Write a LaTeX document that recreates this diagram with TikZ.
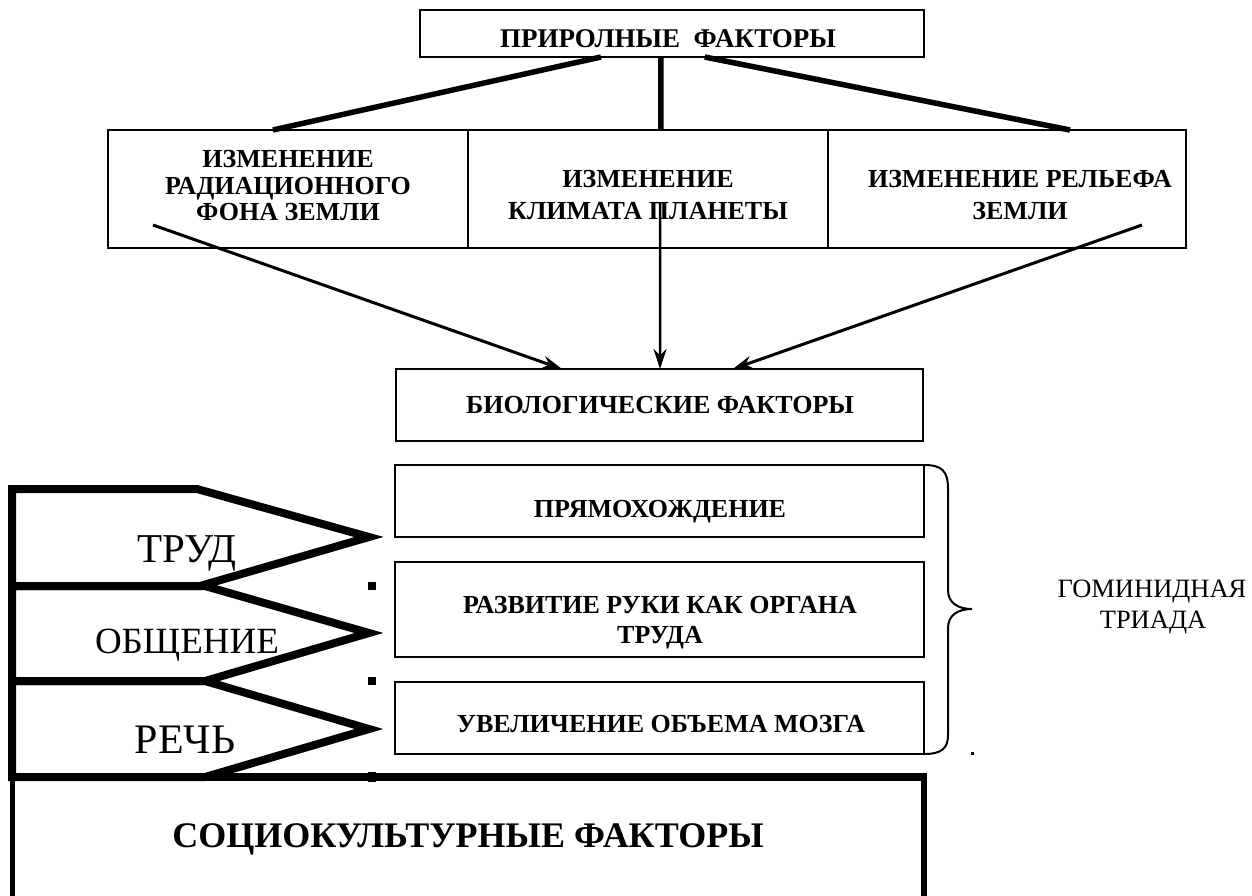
\documentclass[tikz,border=0pt]{standalone}
\usepackage{fontspec}
\setmainfont{Liberation Serif}
\usetikzlibrary{arrows.meta,calc}
\begin{document}
\begin{tikzpicture}[x=1pt,y=-1pt,
  box/.style={draw,line width=2pt,inner sep=0pt,outer sep=0pt,anchor=north west},
  lbl/.style={font=\bfseries\fontsize{26}{30}\selectfont,inner sep=0pt,anchor=base},
  big/.style={font=\fontsize{#1}{#1}\selectfont,inner sep=0pt,anchor=base},
  conn/.style={line width=5.5pt},
  arr/.style={line width=3pt,-{Stealth[length=20pt,width=13pt]}},
  thick5/.style={line width=8pt,line join=miter,miter limit=10},
  sq/.style={fill=black,draw=none,minimum size=8pt,inner sep=0pt}]
\useasboundingbox[fill=white] (0,0) rectangle (1252,895);

% boxes
\node[box,minimum width=504pt,minimum height=47pt] (top) at (420,10) {};
\node[box,minimum width=360pt,minimum height=118pt] (r1) at (108,130) {};
\node[box,minimum width=360pt,minimum height=118pt] (r2) at (468,130) {};
\node[box,minimum width=358pt,minimum height=118pt] (r3) at (828,130) {};
\node[box,minimum width=527pt,minimum height=72pt] (bio) at (396,369) {};
\node[box,minimum width=529pt,minimum height=72pt] (t1) at (395,465) {};
\node[box,minimum width=529pt,minimum height=95pt] (t2) at (395,562) {};
\node[box,minimum width=529pt,minimum height=72pt] (t3) at (395,682) {};

% texts
\node[lbl,font=\bfseries\fontsize{27}{30}\selectfont] (toptxt) at (668,47) {ПРИРОЛНЫЕ\ \ ФАКТОРЫ};
\node[lbl] (r1a) at (288,167) {ИЗМЕНЕНИЕ};
\node[lbl] (r1b) at (288,194) {РАДИАЦИОННОГО};
\node[lbl] (r1c) at (288,220) {ФОНА ЗЕМЛИ};
\node[lbl] (r2a) at (648,187) {ИЗМЕНЕНИЕ};
\node[lbl] (r2b) at (648,219) {КЛИМАТА ПЛАНЕТЫ};
\node[lbl] (r3a) at (1020,187) {ИЗМЕНЕНИЕ РЕЛЬЕФА};
\node[lbl] (r3b) at (1020,219) {ЗЕМЛИ};
\node[lbl] (biotxt) at (660,413) {БИОЛОГИЧЕСКИЕ ФАКТОРЫ};
\node[lbl] (t1txt) at (660,517) {ПРЯМОХОЖДЕНИЕ};
\node[lbl] (t2a) at (660,613) {РАЗВИТИЕ РУКИ КАК ОРГАНА};
\node[lbl] (t2b) at (660,643) {ТРУДА};
\node[lbl] (t3txt) at (661,732) {УВЕЛИЧЕНИЕ ОБЪЕМА МОЗГА};
\node[lbl,font=\bfseries\fontsize{36}{40}\selectfont] (soctxt) at (468,847) {СОЦИОКУЛЬТУРНЫЕ ФАКТОРЫ};
\node[big=41] (trud) at (187,562) {ТРУД};
\node[big=37] (obsh) at (187,653) {ОБЩЕНИЕ};
\node[big=42] (rech) at (185,753) {РЕЧЬ};
\node[big=26.5] (gom) at (1152,597) {ГОМИНИДНАЯ};
\node[big=26.5] (triad) at (1153,628) {ТРИАДА};

% connectors from top box
\draw[conn] ($(top.south west)!0.359!(top.south east)$) -- ($(r1.north west)!0.458!(r1.north east)$);
\draw[conn] ($(top.south west)!0.478!(top.south east)$) -- ($(r2.north west)!0.536!(r2.north east)$);
\draw[conn] ($(top.south west)!0.565!(top.south east)$) -- ($(r3.north west)!0.676!(r3.north east)$);

% arrows to bio
\coordinate (a1) at (153,225);
\coordinate (a2) at (660,203);
\coordinate (a3) at (1142,225);
\draw[arr] (a1) -- ($(bio.north west)!0.315!(bio.north east)$);
\draw[arr,line width=2.5pt] (a2) -- ($(bio.north west)!0.501!(bio.north east)$);
\draw[arr] (a3) -- ($(bio.north west)!0.639!(bio.north east)$);

% pentagons
\draw[thick5] (12,489) -- (197,489) -- (369,537) -- (200,586) -- (12,586) -- cycle;
\draw[thick5] (12,586) -- (205,586) -- (369,633) -- (205,681) -- (12,681) -- cycle;
\draw[thick5] (12,681) -- (205,681) -- (369,729) -- (205,777) -- (12,777) -- cycle;
\node[sq] (d1) at (372,586) {};
\node[sq] (d2) at (372,681) {};
\node[sq,minimum height=10pt] (d3) at (372,777) {};

% socio-cultural box
\draw[line width=8pt] (12,777) -- (924,777);
\draw[line width=5pt] (12,777) -- (12,900);
\draw[line width=6pt] (924,773) -- (924,900);

% brace
\draw[line width=2pt] (t1.north east) .. controls (942,465) and (948,471) .. (948,489) -- (948,590)
  .. controls (948,603) and (958,609) .. (972,609)
  .. controls (958,609) and (948,615) .. (948,628) -- (948,735)
  .. controls (948,748) and (942,754) .. (t3.south east);
\node[fill=black,inner sep=0pt,minimum size=3pt] (dot) at (972,753) {};
\end{tikzpicture}
\end{document}
